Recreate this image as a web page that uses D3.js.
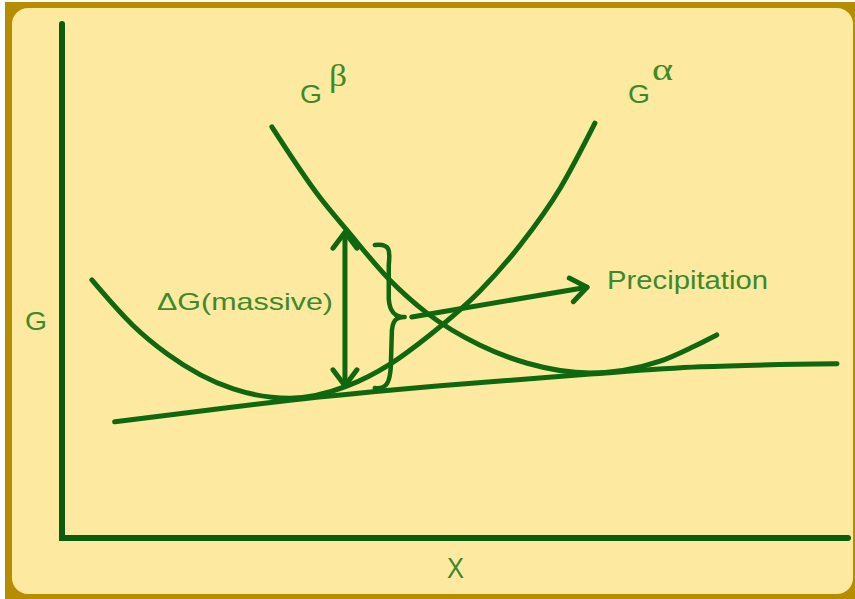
<!DOCTYPE html>
<html>
<head>
<meta charset="utf-8">
<script src="https://cdn.jsdelivr.net/npm/d3@7"></script>
<style>
  body { margin: 0; background: #fff; }
</style>
</head>
<body>
<div id="chart"></div>
<script>
// free energy curves (x = composition 0-100, G = 0-100)
var alphaX = [3.8, 9.0, 13.4, 21.8, 29.0, 36.3, 41.7, 46.8, 53.2, 58.3, 63.4, 67.8];
var alphaG = [50.2, 41.4, 35.8, 29.0, 27.2, 29.6, 33.8, 39.5, 48.1, 57.0, 68.1, 80.7];

var betaX = [26.7, 32.8, 36.3, 41.7, 46.4, 53.2, 59.2, 67.2, 76.1, 80.3, 83.3];
var betaG = [80.0, 66.3, 59.8, 50.2, 43.8, 37.5, 34.0, 32.1, 34.4, 37.2, 39.5];

// common tangent
var tangentX = [6.7, 21.8, 29.0, 48.1, 67.2, 81.2, 98.6];
var tangentG = [22.6, 25.5, 26.8, 29.6, 31.9, 33.3, 33.9];

// annotations
var deltaArrowX = [36.0, 36.0];
var deltaArrowG = [29.6, 59.5];
var braceX = [39.8, 41.7, 43.6];      // end, spine, tip
var braceG = [57.0, 43.0, 29.2];      // top, middle, bottom
var precipX = [44.5, 66.8];
var precipG = [43.0, 48.8];

function drawChart() {
    var W = 855, H = 599;
    var lineCol = "#0f680f", axisCol = "#0b5c0b", textCol = "#3d8a2a";

    var svg = d3.select("#chart").append("svg")
        .attr("width", W)
        .attr("height", H);

    // frame
    svg.append("rect").attr("x", 5).attr("y", 2).attr("width", W - 5).attr("height", H - 2)
        .attr("fill", "#b78d00");
    svg.append("rect").attr("x", 12).attr("y", 8).attr("width", 841).attr("height", 586)
        .attr("rx", 16).attr("fill", "#fde9a0");

    var x = d3.scaleLinear().domain([0, 100]).range([62, 848]);
    var y = d3.scaleLinear().domain([0, 100]).range([538, 24]);

    // open arrow head
    svg.append("defs").append("marker")
        .attr("id", "head")
        .attr("viewBox", "-20 -16 24 32")
        .attr("markerWidth", 24)
        .attr("markerHeight", 32)
        .attr("refX", 0).attr("refY", 0)
        .attr("markerUnits", "userSpaceOnUse")
        .attr("orient", "auto-start-reverse")
      .append("path")
        .attr("d", "M-16,-12L0,0L-16,12")
        .attr("fill", "none")
        .attr("stroke", lineCol)
        .attr("stroke-width", 5)
        .attr("stroke-linecap", "round")
        .attr("stroke-linejoin", "round");

    // axes
    svg.append("path")
        .attr("d", "M" + x(0) + "," + y(100) + "L" + x(0) + "," + y(0) + "L" + x(100) + "," + y(0))
        .attr("fill", "none")
        .attr("stroke", axisCol)
        .attr("stroke-width", 6)
        .attr("stroke-linecap", "round")
        .attr("stroke-linejoin", "miter");

    var curve = d3.line()
        .x(function(d) { return x(d[0]); })
        .y(function(d) { return y(d[1]); })
        .curve(d3.curveMonotoneX);

    function pairs(xs, gs) { return xs.map(function(v, i) { return [v, gs[i]]; }); }

    [[alphaX, alphaG], [betaX, betaG], [tangentX, tangentG]].forEach(function(s) {
        svg.append("path")
            .attr("d", curve(pairs(s[0], s[1])))
            .attr("fill", "none")
            .attr("stroke", lineCol)
            .attr("stroke-width", 5)
            .attr("stroke-linecap", "round");
    });

    // delta G double arrow
    svg.append("path")
        .attr("d", d3.line()(pairs(deltaArrowX, deltaArrowG).map(function(d) { return [x(d[0]), y(d[1])]; })))
        .attr("stroke", lineCol)
        .attr("stroke-width", 5)
        .attr("marker-start", "url(#head)")
        .attr("marker-end", "url(#head)");

    // curly brace
    var bl = x(braceX[0]), bs = x(braceX[1]), bt = x(braceX[2]);
    var top = y(braceG[0]), mid = y(braceG[1]), bot = y(braceG[2]);
    var p = d3.path();
    p.moveTo(bl, top);
    p.bezierCurveTo(bs + 2, top - 2, bs, top + 8, bs - 1, top + 20);
    p.lineTo(bs - 1, mid - 18);
    p.bezierCurveTo(bs, mid - 4, bs + 6, mid, bt, mid);
    p.bezierCurveTo(bs + 6, mid, bs + 2, mid + 4, bs + 2, mid + 18);
    p.lineTo(bs + 1, bot - 20);
    p.bezierCurveTo(bs, bot - 8, bs - 2, bot + 2, bl, bot);
    svg.append("path")
        .attr("d", p.toString())
        .attr("fill", "none")
        .attr("stroke", lineCol)
        .attr("stroke-width", 4.5)
        .attr("stroke-linecap", "round")
        .attr("stroke-linejoin", "round");

    // precipitation arrow
    svg.append("path")
        .attr("d", d3.line()(pairs(precipX, precipG).map(function(d) { return [x(d[0]), y(d[1])]; })))
        .attr("stroke", lineCol)
        .attr("stroke-width", 5)
        .attr("stroke-linecap", "round")
        .attr("marker-end", "url(#head)");

    // labels
    var sans = "'Liberation Sans', Arial, sans-serif", serif = "'Liberation Serif', 'Times New Roman', serif";
    function label(tx, ty, str, size, fam, len) {
        var t = svg.append("text")
            .attr("x", tx).attr("y", ty)
            .attr("fill", textCol)
            .style("font-family", fam)
            .style("font-size", size + "px")
            .text(str);
        if (len) t.attr("textLength", len).attr("lengthAdjust", "spacingAndGlyphs");
        return t;
    }
    label(25, 330, "G", 25, sans, 22);
    label(447, 578, "X", 29, sans, 17);
    label(157, 310, "\u0394G(massive)", 24, sans, 176);
    label(607, 289, "Precipitation", 25, sans, 161);
    label(300, 103, "G", 25, sans, 22);
    label(329, 86, "\u03b2", 32, serif, 18);
    label(628, 103, "G", 25, sans, 22);
    label(652, 80, "\u03b1", 32, serif, 21);
}
drawChart();
</script>
</body>
</html>
